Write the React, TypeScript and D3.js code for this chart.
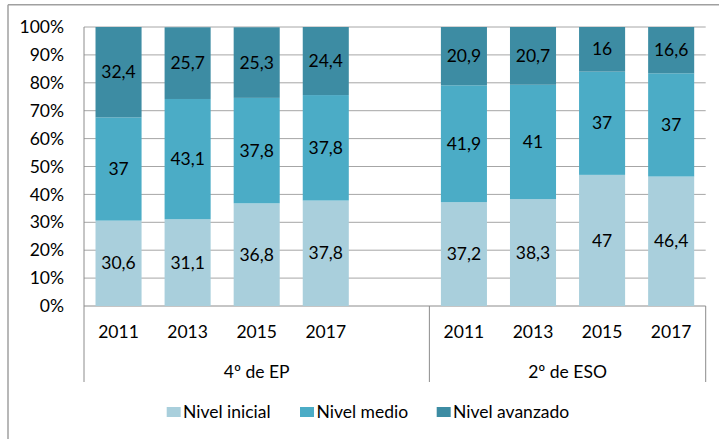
import React from "react";
import * as d3 from "d3";

const groups = ["4º de EP", "2º de ESO"];
const years = ["2011", "2013", "2015", "2017"];
const series = ["Nivel inicial", "Nivel medio", "Nivel avanzado"];
const inicial = [30.6, 31.1, 36.8, 37.8, 37.2, 38.3, 47, 46.4];
const medio = [37, 43.1, 37.8, 37.8, 41.9, 41, 37, 37];
const avanzado = [32.4, 25.7, 25.3, 24.4, 20.9, 20.7, 16, 16.6];
const yTicks = [0, 10, 20, 30, 40, 50, 60, 70, 80, 90, 100];
const colors = ["#a9cfdc", "#4bacc6", "#3d8ca3"];

const W = 719, H = 439;
const FONT = "Lato, 'Open Sans', sans-serif";
const FS = 17.5;

export default function App() {
  const left = 84, right = 705.7, top = 27, bottom = 306;
  // 9 slots: 4 bars, gap, 4 bars
  const slots = d3.range(9).map(String);
  const x = d3.scaleBand<string>().domain(slots).range([left, right]).paddingInner(0).paddingOuter(0);
  const y = d3.scaleLinear().domain([0, 100]).range([bottom, top]);
  const bw = x.bandwidth() / 1.5;
  const slotOf = (i: number) => (i < 4 ? i : i + 1);
  const values = [inicial, medio, avanzado];
  const fmt = (v: number) => String(v).replace(".", ",");

  const bars: any[] = [];
  inicial.forEach((_, i) => {
    let base = 0;
    values.forEach((arr, s) => {
      const v = arr[i];
      const x0 = (x(String(slotOf(i))) as number) + (x.bandwidth() - bw) / 2;
      const y0 = y(base + v), y1 = y(base);
      bars.push({ key: `${i}-${s}`, x0, y0, h: y1 - y0, s, v, cx: x0 + bw / 2, cy: (y0 + y1) / 2 });
      base += v;
    });
  });

  const sepXs = [left, x("5") as number, right];
  const legendItems = [
    { label: series[0], sx: 166.7, tx: 183 },
    { label: series[1], sx: 300, tx: 316.5 },
    { label: series[2], sx: 436.7, tx: 453 },
  ];

  return (
    <svg width={W} height={H} style={{ position: "absolute", left: 0, top: 0, background: "#fff" }} fontFamily={FONT}>
      <rect x={0} y={0} width={W} height={H} fill="#fff" />
      <line x1={8} x2={W} y1={4.7} y2={4.7} stroke="#a0a0a0" strokeWidth={1.5} />
      <line x1={8} x2={8} y1={4.7} y2={H} stroke="#a0a0a0" strokeWidth={1.5} />
      {yTicks.map((t) => (
        <g key={t}>
          <line x1={left} x2={right} y1={y(t)} y2={y(t)} stroke={t === 0 ? "#8c8c8c" : "#a6a6a6"} strokeWidth={1} />
          <text x={64} y={y(t)} dy="0.35em" textAnchor="end" fontSize={FS} fill="#000">{t}%</text>
        </g>
      ))}
      <line x1={left} x2={left} y1={top} y2={bottom} stroke="#8c8c8c" strokeWidth={1} />
      {bars.map((b) => (
        <g key={b.key}>
          <rect x={b.x0} y={b.y0} width={bw} height={b.h} fill={colors[b.s]} />
        </g>
      ))}
      {bars.map((b) => (
        <text key={"t" + b.key} x={b.cx} y={b.cy} dy="0.35em" textAnchor="middle" fontSize={FS} fill="#000">{fmt(b.v)}</text>
      ))}
      {sepXs.map((sx, i) => (
        <line key={i} x1={sx} x2={sx} y1={bottom} y2={382} stroke="#8c8c8c" strokeWidth={1} />
      ))}
      {inicial.map((_, i) => (
        <text key={"y" + i} x={(x(String(slotOf(i))) as number) + x.bandwidth() / 2} y={331.7} dy="0.35em" textAnchor="middle" fontSize={FS} fill="#000">
          {years[i % 4]}
        </text>
      ))}
      {groups.map((g, gi) => (
        <text key={g} x={(sepXs[gi] + sepXs[gi + 1]) / 2} y={371.7} dy="0.35em" textAnchor="middle" fontSize={FS} fill="#000">{g}</text>
      ))}
      {legendItems.map((it, i) => (
        <g key={it.label}>
          <rect x={it.sx} y={407} width={14} height={10} fill={colors[i]} />
          <text x={it.tx} y={411.7} dy="0.35em" fontSize={FS} fill="#000">{it.label}</text>
        </g>
      ))}
    </svg>
  );
}
